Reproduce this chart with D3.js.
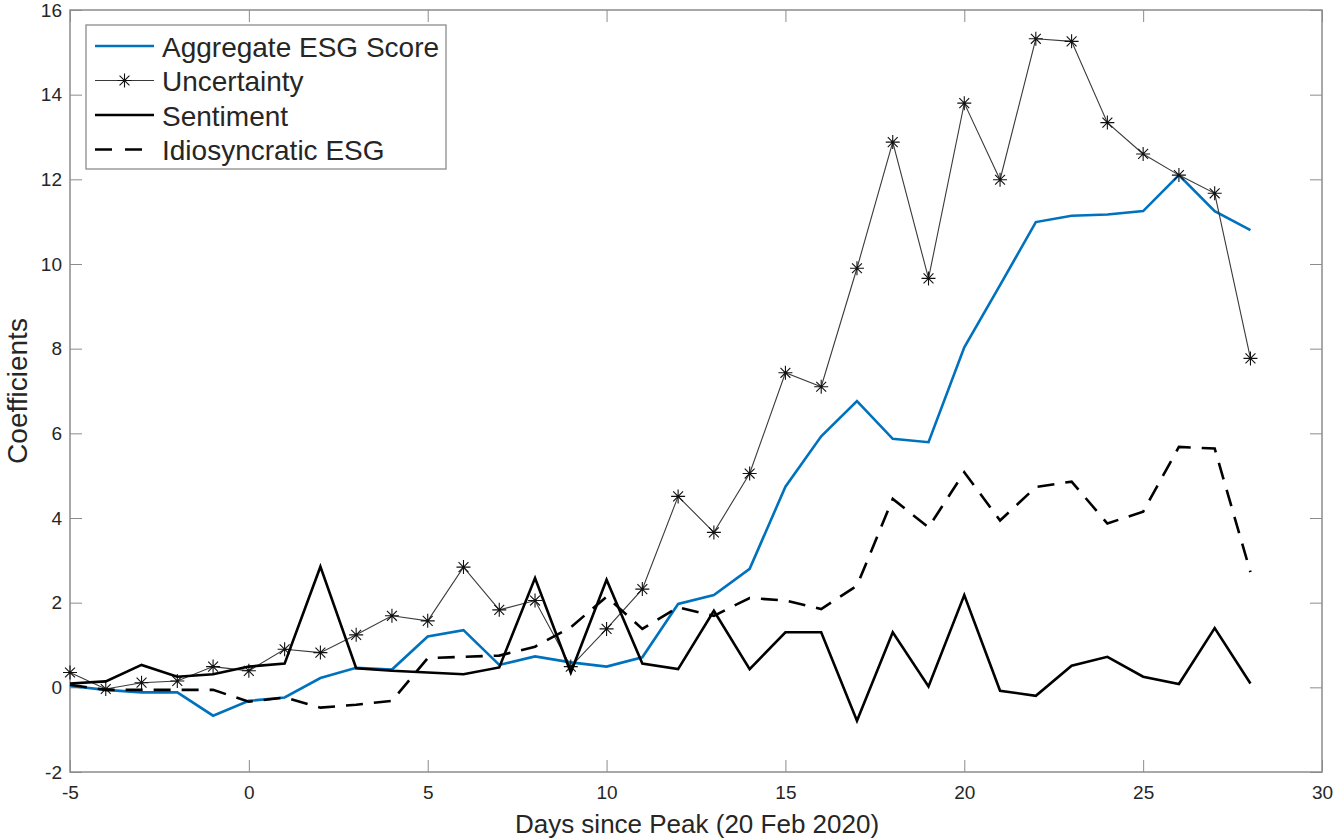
<!DOCTYPE html>
<html>
<head>
<meta charset="utf-8">
<script src="https://cdn.jsdelivr.net/npm/d3@7"></script>
<style>
  body { margin: 0; background: #fff; }
  text { font-family: "Liberation Sans", Arial, Helvetica, sans-serif; fill: #262626; }
</style>
</head>
<body>
<svg id="chart" width="1334" height="839"></svg>
<script>
// days since peak, -5 .. 28
var days = d3.range(-5, 29);

var aggregateEsg = [0.03, -0.06, -0.12, -0.12, -0.67, -0.32, -0.24, 0.22, 0.46, 0.42,
  1.2, 1.35, 0.53, 0.73, 0.59, 0.49, 0.71, 1.97, 2.18, 2.8,
  4.74, 5.93, 6.76, 5.87, 5.79, 8.03, 9.5, 10.99, 11.14, 11.17,
  11.25, 12.1, 11.25, 10.8];

var uncertainty = [0.35, -0.04, 0.11, 0.15, 0.49, 0.39, 0.9, 0.82, 1.24, 1.69,
  1.57, 2.84, 1.83, 2.05, 0.49, 1.38, 2.32, 4.51, 3.66, 5.05,
  7.43, 7.1, 9.9, 12.88, 9.66, 13.8, 11.99, 15.32, 15.26, 13.34,
  12.6, 12.1, 11.67, 7.77];

var sentiment = [0.09, 0.14, 0.53, 0.25, 0.31, 0.49, 0.56, 2.85, 0.45, 0.39,
  0.35, 0.31, 0.47, 2.58, 0.35, 2.54, 0.56, 0.43, 1.81, 0.43,
  1.3, 1.3, -0.79, 1.3, 0.02, 2.18, -0.08, -0.2, 0.51, 0.72,
  0.25, 0.08, 1.4, 0.09];

var idiosyncraticEsg = [0.06, -0.06, -0.06, -0.06, -0.06, -0.34, -0.24, -0.48, -0.41, -0.32,
  0.69, 0.72, 0.75, 0.96, 1.42, 2.14, 1.38, 1.89, 1.69, 2.11,
  2.05, 1.85, 2.4, 4.45, 3.78, 5.08, 3.94, 4.73, 4.86, 3.87,
  4.15, 5.68, 5.64, 2.72];

var xTicks = [-5, 0, 5, 10, 15, 20, 25, 30];
var yTicks = [-2, 0, 2, 4, 6, 8, 10, 12, 14, 16];

var legendLabels = ["Aggregate ESG Score", "Uncertainty", "Sentiment", "Idiosyncratic ESG"];

const BLUE = "#0072BD";
const AXIS_GRAY = "#8c8c8c";

var svg = d3.select("#chart");

var plot = { left: 70, right: 1322, top: 10, bottom: 772 };

var x = d3.scaleLinear().domain([-5, 30]).range([plot.left, plot.right]);
var y = d3.scaleLinear().domain([-2, 16]).range([plot.bottom, plot.top]);

var plainNum = (d) => String(d); // keep ascii hyphen like matlab

// axes (ticks point inward, matlab style)
function styleAxis(g) {
  g.select(".domain").remove();
  g.selectAll(".tick line").attr("stroke", AXIS_GRAY);
  g.selectAll(".tick text").style("font-size", "19px").attr("fill", "#262626");
}

svg.append("g")
  .attr("transform", `translate(0, ${plot.bottom})`)
  .call(d3.axisBottom(x).tickValues(xTicks).tickFormat(plainNum).tickSize(-12).tickPadding(14))
  .call(styleAxis);

svg.append("g")
  .attr("transform", `translate(0, ${plot.top})`)
  .call(d3.axisTop(x).tickValues(xTicks).tickSize(-12).tickFormat(""))
  .call(styleAxis);

svg.append("g")
  .attr("transform", `translate(${plot.left}, 0)`)
  .call(d3.axisLeft(y).tickValues(yTicks).tickFormat(plainNum).tickSize(-12).tickPadding(8))
  .call(styleAxis);

svg.append("g")
  .attr("transform", `translate(${plot.right}, 0)`)
  .call(d3.axisRight(y).tickValues(yTicks).tickSize(-12).tickFormat(""))
  .call(styleAxis);

// box
svg.append("rect")
  .attr("x", plot.left)
  .attr("y", plot.top)
  .attr("width", plot.right - plot.left)
  .attr("height", plot.bottom - plot.top)
  .attr("fill", "none")
  .attr("stroke", AXIS_GRAY)
  .attr("stroke-width", 1.5);

// axis titles
svg.append("text")
  .attr("x", (plot.left + plot.right) / 2 + 1)
  .attr("y", 833)
  .attr("text-anchor", "middle")
  .style("font-size", "26px")
  .text("Days since Peak (20 Feb 2020)");

svg.append("text")
  .attr("transform", `translate(27, ${(plot.top + plot.bottom) / 2}) rotate(-90)`)
  .attr("text-anchor", "middle")
  .style("font-size", "28px")
  .text("Coefficients");

var line = d3.line()
  .x((d, i) => x(days[i]))
  .y((d) => y(d));

var lines = svg.append("g").attr("id", "lines");

lines.append("path")
  .datum(aggregateEsg)
  .attr("d", line)
  .attr("fill", "none")
  .attr("stroke", BLUE)
  .attr("stroke-width", 2.6);

lines.append("path")
  .datum(uncertainty)
  .attr("d", line)
  .attr("fill", "none")
  .attr("stroke", "#3a3a3a")
  .attr("stroke-width", 1.1);

// asterisk marker: +, x combined
function asterisk(r) {
  var d = r * Math.SQRT1_2;
  return `M0,${-r}V${r}M${-r},0H${r}M${-d},${-d}L${d},${d}M${-d},${d}L${d},${-d}`;
}

lines.append("g")
  .selectAll("path")
  .data(uncertainty)
  .enter()
  .append("path")
  .attr("transform", (d, i) => `translate(${x(days[i])}, ${y(d)})`)
  .attr("d", asterisk(7))
  .attr("fill", "none")
  .attr("stroke", "#111")
  .attr("stroke-width", 1.1);

lines.append("path")
  .datum(sentiment)
  .attr("d", line)
  .attr("fill", "none")
  .attr("stroke", "#000")
  .attr("stroke-width", 2.6);

lines.append("path")
  .datum(idiosyncraticEsg)
  .attr("d", line)
  .attr("fill", "none")
  .attr("stroke", "#000")
  .attr("stroke-width", 2.6)
  .attr("stroke-dasharray", "17,11");

// legend
var legend = svg.append("g").attr("id", "legend");

legend.append("rect")
  .attr("x", 86)
  .attr("y", 25)
  .attr("width", 360)
  .attr("height", 144)
  .attr("fill", "#fff")
  .attr("stroke", AXIS_GRAY)
  .attr("stroke-width", 1.3);

var legendStyles = [
  { stroke: BLUE, width: 2.6, dash: null, marker: false },
  { stroke: "#3a3a3a", width: 1.1, dash: null, marker: true },
  { stroke: "#000", width: 2.6, dash: null, marker: false },
  { stroke: "#000", width: 2.6, dash: "17,13", marker: false },
];

legendLabels.forEach((lbl, i) => {
  var cy = 46 + i * 34.5;
  var st = legendStyles[i];
  var row = legend.append("g");
  row.append("line")
    .attr("x1", 95)
    .attr("x2", 154)
    .attr("y1", cy)
    .attr("y2", cy)
    .attr("stroke", st.stroke)
    .attr("stroke-width", st.width)
    .attr("stroke-dasharray", st.dash);
  if (st.marker) {
    row.append("path")
      .attr("transform", `translate(124.5, ${cy})`)
      .attr("d", asterisk(7))
      .attr("fill", "none")
      .attr("stroke", "#111")
      .attr("stroke-width", 1.1);
  }
  row.append("text")
    .attr("x", 162)
    .attr("y", cy + 10.5)
    .style("font-size", "28px")
    .text(lbl);
});
</script>
</body>
</html>
